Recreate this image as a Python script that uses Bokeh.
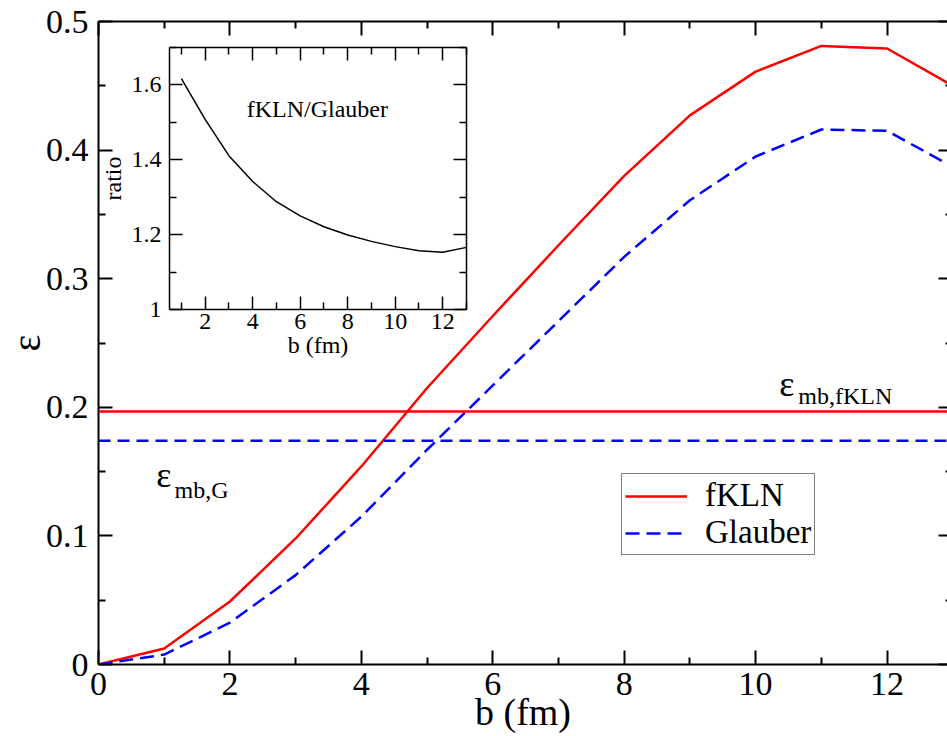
from bokeh.plotting import figure
from bokeh.models import (Range1d, LinearAxis, FixedTicker, Span, Label, Legend, LegendItem)
from bokeh.embed import file_html
from bokeh.resources import INLINE

# ---- data ----
b = [0, 1, 2, 3, 4, 5, 6, 7, 8, 9, 10, 11, 12, 13]
ecc_fkln = [0.0, 0.0124, 0.049, 0.098, 0.154, 0.215, 0.271, 0.326, 0.380, 0.427, 0.461, 0.481, 0.479, 0.450]
ecc_glauber = [0.0, 0.0077, 0.0325, 0.0695, 0.115, 0.167, 0.217, 0.267, 0.317, 0.361, 0.395, 0.416, 0.415, 0.387]
eps_mb_fkln = 0.1967
eps_mb_glauber = 0.174

b_ratio = [1, 2, 3, 4, 5, 6, 7, 8, 9, 10, 11, 12, 13]
ratio = [1.617, 1.508, 1.411, 1.342, 1.288, 1.250, 1.221, 1.199, 1.182, 1.168, 1.157, 1.153, 1.166]

x_ticks = [0, 2, 4, 6, 8, 10, 12]
x_minor = [1, 3, 5, 7, 9, 11, 13]
y_ticks = [0, 0.1, 0.2, 0.3, 0.4, 0.5]
y_minor = [0.05, 0.15, 0.25, 0.35, 0.45]
y_labels = {0: "0", 0.1: "0.1", 0.2: "0.2", 0.3: "0.3", 0.4: "0.4", 0.5: "0.5"}

ix_ticks = [2, 4, 6, 8, 10, 12]
ix_minor = [1, 3, 5, 7, 9, 11, 13]
iy_ticks = [1, 1.2, 1.4, 1.6]
iy_minor = [1.1, 1.3, 1.5, 1.7]
iy_labels = {1: "1", 1.2: "1.2", 1.4: "1.4", 1.6: "1.6"}

FONT = "Liberation Serif"
RED = "#ff0000"
BLUE = "#0000ff"


def labeled_axis(fig, side, ticks, minor, fs, tin, tmin, lw, standoff):
    ax = LinearAxis(ticker=FixedTicker(ticks=ticks, minor_ticks=minor))
    ax.major_tick_in = tin
    ax.major_tick_out = 0
    ax.minor_tick_in = tmin
    ax.minor_tick_out = 0
    ax.major_tick_line_width = lw
    ax.minor_tick_line_width = lw
    ax.axis_line_width = lw
    ax.major_label_text_font = FONT
    ax.major_label_text_color = "black"
    ax.major_label_text_font_size = fs
    ax.major_label_standoff = standoff
    ax.axis_label_text_font = FONT
    ax.axis_label_text_font_style = "normal"
    ax.axis_label_text_color = "black"
    fig.add_layout(ax, side)
    return ax


def tick_only_axis(fig, side, positions, tick_len, lw, line=True):
    # an axis without labels: every tick is drawn as a "minor" tick
    ax = LinearAxis(ticker=FixedTicker(ticks=[], minor_ticks=positions))
    ax.major_tick_in = 0
    ax.major_tick_out = 0
    ax.minor_tick_in = tick_len
    ax.minor_tick_out = 0
    ax.minor_tick_line_width = lw
    ax.axis_line_width = lw
    ax.major_label_standoff = 0
    ax.axis_label_standoff = 0
    if not line:
        ax.axis_line_color = None
    fig.add_layout(ax, side)
    return ax


# ---- main figure ----
p = figure(width=947, height=736, output_backend="svg", toolbar_location=None,
           x_range=Range1d(0, 12.92), y_range=Range1d(0, 0.5),
           x_axis_type=None, y_axis_type=None,
           min_border_left=97, min_border_right=0, min_border_top=21, min_border_bottom=72)
p.outline_line_color = None
p.xgrid.visible = False
p.ygrid.visible = False
p.background_fill_color = "white"
p.border_fill_color = "white"

xb = labeled_axis(p, "below", x_ticks, x_minor, "34px", 14, 7, 2, 8)
xb.axis_label = "b (fm)"
xb.axis_label_text_font_size = "38px"
xb.axis_label_standoff = -7

yl = labeled_axis(p, "left", y_ticks, y_minor, "34px", 14, 7, 2, 10)
yl.major_label_overrides = y_labels
yl.axis_label = "ε"
yl.axis_label_text_font_size = "40px"
yl.axis_label_standoff = -6

tick_only_axis(p, "above", x_ticks, 14, 2)
tick_only_axis(p, "above", x_minor, 7, 2, line=False)
tick_only_axis(p, "right", y_ticks, 9, 2, line=False)
tick_only_axis(p, "right", y_minor, 2, 2, line=False)

# mean lines
p.add_layout(Span(location=eps_mb_fkln, dimension="width", line_color=RED, line_width=2.5))
p.add_layout(Span(location=eps_mb_glauber, dimension="width", line_color=BLUE, line_width=2.5, line_dash="12 7"))

r_f = p.line(b, ecc_fkln, line_color=RED, line_width=2.5)
r_g = p.line(b, ecc_glauber, line_color=BLUE, line_width=2.5, line_dash="14 7")

# annotations
p.add_layout(Label(x=10.36, y=0.2185, text="ε", text_font=FONT, text_font_size="36px",
                   text_baseline="alphabetic", text_color="black"))
p.add_layout(Label(x=10.65, y=0.209, text="mb,fKLN", text_font=FONT, text_font_size="24px",
                   text_baseline="alphabetic", text_color="black"))
p.add_layout(Label(x=0.88, y=0.1477, text="ε", text_font=FONT, text_font_size="36px",
                   text_baseline="alphabetic", text_color="black"))
p.add_layout(Label(x=1.156, y=0.136, text="mb,G", text_font=FONT, text_font_size="24px",
                   text_baseline="alphabetic", text_color="black"))

legend = Legend(items=[LegendItem(label="fKLN", renderers=[r_f]),
                       LegendItem(label="Glauber", renderers=[r_g])],
                location=(523, 109))
legend.label_text_font = FONT
legend.label_text_font_size = "33px"
legend.label_text_color = "black"
legend.border_line_color = "black"
legend.border_line_width = 1.5
legend.background_fill_alpha = 1.0
legend.glyph_width = 62
legend.glyph_height = 30
legend.label_height = 30
legend.label_standoff = 18
legend.padding = 3
legend.spacing = 0
legend.margin = 0
legend.label_text_baseline = "middle"
p.add_layout(legend)

# ---- inset figure ----
inset = figure(width=374, height=326, output_backend="svg", toolbar_location=None,
               x_range=Range1d(0.5, 13), y_range=Range1d(1, 1.7),
               x_axis_type=None, y_axis_type=None,
               min_border_left=72, min_border_right=4, min_border_top=4, min_border_bottom=60,
               styles={"position": "absolute", "left": "96px", "top": "43px"})
inset.outline_line_color = None
inset.xgrid.visible = False
inset.ygrid.visible = False
inset.border_fill_color = None
inset.background_fill_color = "white"

ib = labeled_axis(inset, "below", ix_ticks, ix_minor, "24px", 13, 7, 1.5, 4)
ib.axis_label = "b (fm)"
ib.axis_label_text_font_size = "24px"
ib.axis_label_standoff = 0

il = labeled_axis(inset, "left", iy_ticks, iy_minor, "24px", 13, 7, 1.5, 8)
il.major_label_overrides = iy_labels
il.axis_label = "ratio"
il.axis_label_text_font_size = "24px"
il.axis_label_standoff = 3

tick_only_axis(inset, "above", ix_ticks, 13, 1.5)
tick_only_axis(inset, "above", ix_minor, 7, 1.5, line=False)
tick_only_axis(inset, "right", iy_ticks, 13, 1.5)
tick_only_axis(inset, "right", iy_minor, 7, 1.5, line=False)

inset.line(b_ratio, ratio, line_color="black", line_width=1.5)
inset.add_layout(Label(x=3.75, y=1.535, text="fKLN/Glauber", text_font=FONT, text_font_size="24px",
                       text_baseline="middle", text_color="black"))

open("out.html", "w").write(file_html([p, inset], INLINE))
